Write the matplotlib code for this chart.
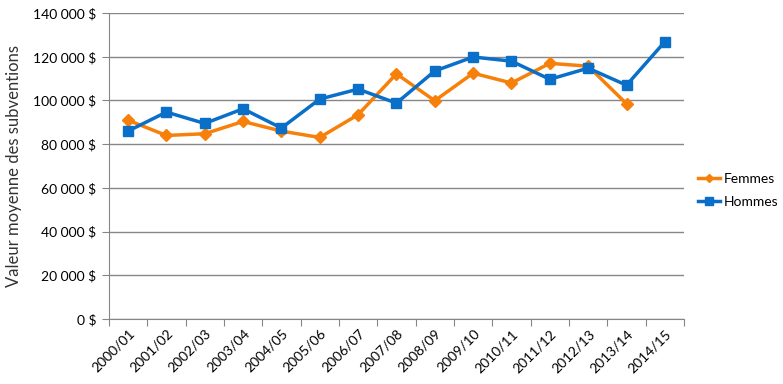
import matplotlib
matplotlib.use("Agg")
import matplotlib.pyplot as plt
import numpy as np
from matplotlib.ticker import FuncFormatter

plt.rcParams['font.family'] = ['Lato', 'DejaVu Sans']

categories = ["2000/01", "2001/02", "2002/03", "2003/04", "2004/05", "2005/06",
              "2006/07", "2007/08", "2008/09", "2009/10", "2010/11", "2011/12",
              "2012/13", "2013/14", "2014/15"]
femmes = [91000, 84000, 84800, 90400, 86000, 83100, 93500, 112200, 99900,
          112500, 108000, 117000, 115700, 98500, np.nan]
hommes = [86000, 94700, 89500, 96200, 87400, 100650, 105200, 98800, 113500,
          119900, 118000, 109700, 114800, 107000, 126900]

fig = plt.figure(figsize=(7.83, 3.84), dpi=100)
ax = fig.add_axes([0.139, 0.169, 0.7346, 0.797])

x = np.arange(len(categories))
ax.plot(x, femmes, color='#F7800A', lw=2.5, marker='D', ms=6, label='Femmes', zorder=3)
ax.plot(x, hommes, color='#0A6FC8', lw=2.5, marker='s', ms=7.5, label='Hommes', zorder=4)

ax.set_xlim(-0.5, len(categories) - 0.5)
ax.set_ylim(0, 140000)
ax.set_yticks(np.arange(0, 140001, 20000))
ax.yaxis.set_major_formatter(FuncFormatter(lambda v, p: f"{int(v):,}".replace(",", " ") + " $"))
ax.grid(axis='y', color='#868686', lw=1, zorder=0)
ax.set_axisbelow(True)

ax.set_xticks(np.arange(-0.5, len(categories), 1))
ax.set_xticklabels([])
ax.set_xticks(x, minor=True)
ax.set_xticklabels(categories, minor=True, rotation=45, ha='right', rotation_mode='anchor', fontsize=10)
ax.tick_params(axis='x', which='minor', length=0, pad=6)
ax.tick_params(axis='x', which='major', length=5, color='#868686')
ax.tick_params(axis='y', length=5, color='#868686', labelsize=10, pad=4)

for s in ['top', 'right']:
    ax.spines[s].set_visible(False)
for s in ['left', 'bottom']:
    ax.spines[s].set_color('#868686')

ax.set_ylabel("Valeur moyenne des subventions", fontsize=12, color='#333333', labelpad=8)

ax.legend(loc='center left', bbox_to_anchor=(0.995, 0.42), frameon=False,
          fontsize=10, handlelength=1.6, handletextpad=0.3, labelspacing=0.8,
          markerscale=0.75, borderaxespad=0.8)

fig.savefig("out.png", dpi=100)
